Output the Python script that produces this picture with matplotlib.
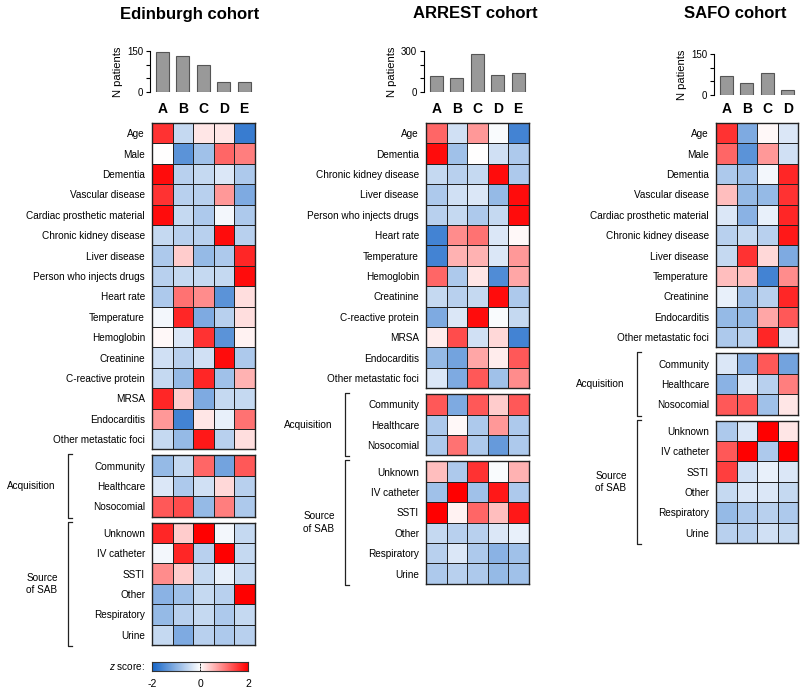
import numpy as np
import matplotlib
matplotlib.use("Agg")
import matplotlib.pyplot as plt
from matplotlib.colors import LinearSegmentedColormap

plt.rcParams["font.family"] = ["Liberation Sans", "DejaVu Sans"]
plt.rcParams["mathtext.fontset"] = "custom"
plt.rcParams["mathtext.rm"] = "Liberation Sans"
plt.rcParams["mathtext.it"] = "Liberation Sans:italic"

W, H = 800, 688

# ── 数据 ──
ACQ_ROWS = ["Community", "Healthcare", "Nosocomial"]
SRC_ROWS = ["Unknown", "IV catheter", "SSTI", "Other", "Respiratory", "Urine"]

EDI_COLS = ["A", "B", "C", "D", "E"]
EDI_N = [145, 130, 100, 38, 35]
EDI_ROWS = ["Age", "Male", "Dementia", "Vascular disease", "Cardiac prosthetic material",
            "Chronic kidney disease", "Liver disease", "Person who injects drugs", "Heart rate",
            "Temperature", "Hemoglobin", "Creatinine", "C-reactive protein", "MRSA",
            "Endocarditis", "Other metastatic foci"]
EDI_Z = [
    [1.6, -0.5, 0.2, 0.2, -1.7],
    [0.0, -1.4, -0.8, 1.2, 1.0],
    [1.9, -0.6, -0.5, -0.3, -0.7],
    [1.6, -0.6, -0.6, 0.8, -1.1],
    [1.9, -0.5, -0.7, -0.1, -0.7],
    [-0.5, -0.6, -0.6, 1.9, -0.6],
    [-0.7, 0.4, -0.9, -0.7, 1.7],
    [-0.6, -0.5, -0.5, -0.5, 1.9],
    [-0.7, 1.1, 0.9, -1.4, 0.25],
    [-0.1, 1.7, -1.1, -0.6, 0.25],
    [0.05, -0.3, 1.6, -1.4, 0.1],
    [-0.4, -0.6, -0.4, 1.9, -0.7],
    [-0.5, -0.9, 1.7, -0.8, 0.6],
    [1.7, 0.4, -1.1, -0.5, -0.5],
    [0.8, -1.6, 0.2, -0.2, 1.1],
    [-0.5, -0.9, 1.8, -0.6, 0.25],
]
EDI_ACQ = [
    [-0.9, -0.5, 1.2, -1.2, 1.3],
    [-0.3, -0.7, -0.4, 0.3, -0.6],
    [1.3, 1.4, -0.9, 1.0, -0.7],
]
EDI_SRC = [
    [1.7, 0.4, 2.0, -0.1, -0.5],
    [-0.1, 1.7, -0.6, 2.0, -0.5],
    [0.9, 0.4, -0.5, -0.2, -0.5],
    [-1.0, -0.8, -0.5, -0.6, 2.0],
    [-0.9, -0.6, -0.5, -0.7, -0.5],
    [-0.5, -1.1, -0.6, -0.7, -0.6],
]

ARR_COLS = ["A", "B", "C", "D", "E"]
ARR_N = [115, 105, 275, 122, 139]
ARR_ROWS = ["Age", "Dementia", "Chronic kidney disease", "Liver disease",
            "Person who injects drugs", "Heart rate", "Temperature", "Hemoglobin",
            "Creatinine", "C-reactive protein", "MRSA", "Endocarditis",
            "Other metastatic foci"]
ARR_Z = [
    [1.2, -0.4, 0.8, -0.05, -1.6],
    [1.9, -0.8, 0.0, -0.4, -0.7],
    [-0.5, -0.6, -0.5, 1.9, -0.7],
    [-0.7, -0.4, -0.3, -0.9, 1.9],
    [-0.6, -0.5, -0.7, -0.5, 1.9],
    [-1.6, 0.9, 1.1, -0.3, 0.05],
    [-1.6, 0.6, 0.6, -0.3, 0.8],
    [1.2, -0.7, 0.2, -1.5, 0.7],
    [-0.5, -0.6, -0.5, 1.9, -0.7],
    [-1.1, -0.3, 1.9, -0.05, -0.5],
    [0.15, 1.4, -0.4, 0.3, -1.6],
    [-0.9, -1.2, 0.7, 0.15, 1.3],
    [-0.3, -1.1, 1.3, -0.8, 0.9],
]
ARR_ACQ = [
    [1.3, -1.1, 1.3, 0.4, 1.3],
    [-0.7, 0.05, -0.7, 0.8, -0.7],
    [-0.7, 1.1, -0.7, -1.3, -0.7],
]
ARR_SRC = [
    [0.5, -0.7, 1.6, -0.05, 0.6],
    [-0.8, 2.0, -0.8, 1.8, -0.7],
    [2.0, 0.1, 1.2, 0.5, 1.8],
    [-0.5, -0.6, -0.6, -0.3, -0.2],
    [-0.6, -0.3, -0.7, -1.0, -0.8],
    [-0.7, -0.6, -0.7, -0.9, -0.8],
]

SAFO_COLS = ["A", "B", "C", "D"]
SAFO_N = [69, 43, 79, 18]
SAFO_ROWS = ["Age", "Male", "Dementia", "Vascular disease", "Cardiac prosthetic material",
             "Chronic kidney disease", "Liver disease", "Temperature", "Creatinine",
             "Endocarditis", "Other metastatic foci"]
SAFO_Z = [
    [1.6, -1.1, 0.05, -0.3],
    [1.2, -1.4, 0.8, -0.4],
    [-0.7, -0.8, -0.1, 1.7],
    [0.5, -0.9, -0.9, 1.6],
    [-0.3, -1.0, -0.2, 1.7],
    [-0.6, -0.5, -0.6, 1.8],
    [-0.5, 1.6, 0.3, -1.1],
    [0.5, 0.5, -1.6, 0.9],
    [-0.2, -0.8, -0.6, 1.7],
    [-0.9, -0.9, 0.7, 1.3],
    [-0.7, -0.6, 1.7, -0.3],
]
SAFO_ACQ = [
    [-0.3, -1.0, 1.3, -1.2],
    [-1.0, -0.3, -0.6, 1.0],
    [1.3, 1.3, -0.8, 0.2],
]
SAFO_SRC = [
    [-0.7, -0.3, 2.0, 0.2],
    [1.3, 2.0, -0.7, 2.0],
    [1.5, -0.4, -0.2, -0.3],
    [-0.5, -0.3, -0.3, -0.5],
    [-0.9, -0.7, -0.6, -0.7],
    [-0.6, -0.6, -0.4, -0.5],
]

CMAP = LinearSegmentedColormap.from_list("zscore", ["#1565C8", "#ffffff", "#ff0000"])
LABEL_FS = 7.2
CW, RH, GAP, TOP = 20.5, 20.4, 6, 123


def px_axes(fig, x0, y0, x1, y1):
    return fig.add_axes([x0 / W, 1 - y1 / H, (x1 - x0) / W, (y1 - y0) / H])


def draw_block(fig, x0, y0, z, labels):
    z = np.asarray(z)
    nr, nc = z.shape
    ax = px_axes(fig, x0, y0, x0 + nc * CW, y0 + nr * RH)
    ax.pcolormesh(z, cmap=CMAP, vmin=-2, vmax=2, edgecolors="#222222", linewidth=0.7)
    ax.set_xlim(0, nc)
    ax.set_ylim(nr, 0)
    ax.set_xticks([])
    ax.set_yticks(np.arange(nr) + 0.5)
    ax.set_yticklabels(labels, fontsize=LABEL_FS)
    ax.tick_params(axis="y", length=0, pad=5)
    for s in ax.spines.values():
        s.set_linewidth(1.0)
        s.set_color("#222222")
    return y0 + nr * RH


def draw_cohort(fig, over, title, cols, counts, ymax, rows, zmain, zacq, zsrc,
                x0, bracket_x, bar_top, title_x):
    n = len(cols)
    x1 = x0 + n * CW

    # ── 柱状图 ──
    bax = px_axes(fig, x0 - 2, bar_top, x1, bar_top + 41)
    bax.bar(np.arange(n), counts, width=0.64, color="#999999", edgecolor="#555555", linewidth=0.8)
    bax.set_xlim(-0.5 - 2 / CW, n - 0.5)
    bax.set_ylim(0, ymax)
    bax.set_yticks(np.linspace(0, ymax, 4))
    bax.set_yticklabels(["0", "", "", str(ymax)], fontsize=7)
    bax.set_xticks([])
    for k in ["top", "right", "bottom"]:
        bax.spines[k].set_visible(False)
    bax.spines["left"].set_linewidth(0.8)
    bax.tick_params(axis="y", length=3, width=0.8, pad=2)
    bax.set_ylabel("N patients", fontsize=8, labelpad=3)

    for j, c in enumerate(cols):
        over.text(x0 + (j + 0.5) * CW, TOP - 14, c, ha="center", va="center",
                  fontsize=10, fontweight="bold")

    # ── 热图 ──
    y = draw_block(fig, x0, TOP, zmain, rows)
    a0 = y + GAP
    a1 = draw_block(fig, x0, a0, zacq, ACQ_ROWS)
    s0 = a1 + GAP
    s1 = draw_block(fig, x0, s0, zsrc, SRC_ROWS)

    for b0, b1 in [(a0, a1), (s0, s1)]:
        over.plot([bracket_x + 4, bracket_x, bracket_x, bracket_x + 4],
                  [b0 - 1, b0 - 1, b1 + 1, b1 + 1], color="#222222", lw=0.9)
    over.text(bracket_x - 13, (a0 + a1) / 2, "Acquisition", ha="right", va="center",
              fontsize=LABEL_FS)
    over.text(bracket_x - 26, (s0 + s1) / 2, "Source\nof SAB", ha="center", va="center",
              fontsize=LABEL_FS, linespacing=1.3)
    over.text(title_x, 14, title, ha="center", va="center", fontsize=12, fontweight="bold")


fig = plt.figure(figsize=(W / 100, H / 100), dpi=100)
over = fig.add_axes([0, 0, 1, 1])
over.set_xlim(0, W)
over.set_ylim(H, 0)
over.axis("off")
over.patch.set_alpha(0)

draw_cohort(fig, over, "Edinburgh cohort", EDI_COLS, EDI_N, 150, EDI_ROWS, EDI_Z, EDI_ACQ, EDI_SRC,
            x0=152, bracket_x=68, bar_top=51, title_x=190)
draw_cohort(fig, over, "ARREST cohort", ARR_COLS, ARR_N, 300, ARR_ROWS, ARR_Z, ARR_ACQ, ARR_SRC,
            x0=426, bracket_x=345, bar_top=51, title_x=475)
draw_cohort(fig, over, "SAFO cohort", SAFO_COLS, SAFO_N, 150, SAFO_ROWS, SAFO_Z, SAFO_ACQ, SAFO_SRC,
            x0=716, bracket_x=637, bar_top=54, title_x=735)

# ── 颜色条 ──
cax = px_axes(fig, 152, 662, 248, 671)
cax.imshow(np.linspace(-2, 2, 256)[None, :], aspect="auto", cmap=CMAP, vmin=-2, vmax=2,
           extent=[-2, 2, 0, 1])
cax.axvline(0, color="#222222", lw=0.7, ls=(0, (2, 1)))
cax.set_yticks([])
cax.set_xticks([-2, 0, 2])
cax.set_xticklabels(["-2", "0", "2"])
cax.tick_params(axis="x", length=0, pad=6, labelsize=7.5)
for s in cax.spines.values():
    s.set_linewidth(0.8)
    s.set_color("#333333")
over.text(145, 666.5, r"$\it{z}$ score:", ha="right", va="center", fontsize=LABEL_FS)

fig.savefig("out.png", dpi=100)
